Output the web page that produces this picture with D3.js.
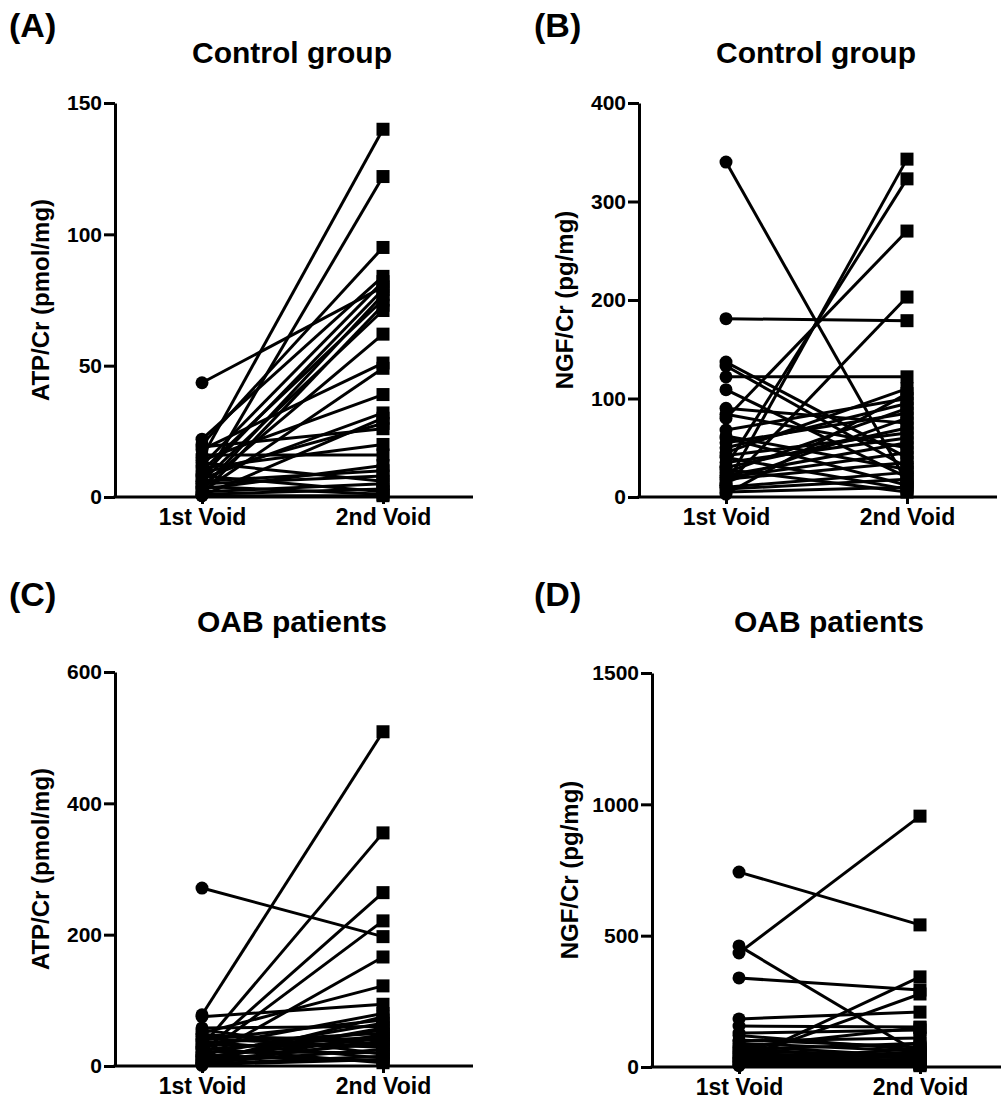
<!DOCTYPE html>
<html><head><meta charset="utf-8">
<script src="https://cdn.jsdelivr.net/npm/d3@7"></script>
<style>
body{margin:0;background:#fff;}
text{font-family:"Liberation Sans",Arial,sans-serif;font-weight:bold;fill:#000;}
</style></head>
<body><svg id="c" width="1001" height="1100"></svg>
<script>
const categories = ["1st Void", "2nd Void"];
// Panel A: Control ATP/Cr
const ctrlATP1 = [43.5,15,5,20,22,12,8,3,10,1,6,4,18,2,14,7,0.5,9,11,16,3,5,13,2,1,8,4,0.5,6,19];
const ctrlATP2 = [80,140,122,95,84,82,79,77,75,73,71,62,51,49,39,32,30,28,20,16,12,8,6,5,3,2,1,0.5,10,26];
// Panel B: Control NGF/Cr
const ctrlNGF1 = [340,181,137,133,122,109,90,84,68,60,55,12,31,80,12,50,45,40,35,30,25,20,18,15,10,8,5,3,28,42,62,22];
const ctrlNGF2 = [15,179,40,30,122,20,75,50,100,12,85,343,323,270,203,95,110,8,60,70,90,45,35,80,25,18,10,105,5,65,28,55];
// Panel C: OAB ATP/Cr
const oabATP1 = [78,75,271,30,20,15,10,58,50,45,40,35,32,28,25,22,18,12,8,5,3,2,55,42,38,27,14,6,1,48,16,9,4];
const oabATP2 = [509,94,197,355,264,221,166,60,122,40,70,50,30,80,45,20,65,55,35,25,15,10,18,28,12,5,42,75,48,33,8,58,38];
// Panel D: OAB NGF/Cr
const oabNGF1 = [742,434,461,339,183,156,129,103,20,30,90,80,70,60,55,50,45,40,35,30,25,20,15,10,8,5,65,100,120,75];
const oabNGF2 = [541,955,50,293,209,152,141,76,343,278,60,40,30,45,20,35,10,25,55,15,70,12,8,30,20,5,90,110,65,150];
const ticksA = [0,50,100,150];
const ticksB = [0,100,200,300,400];
const ticksC = [0,200,400,600];
const ticksD = [0,500,1000,1500];

const panels = [
  {letter:"(A)", title:"Control group", ylab:"ATP/Cr (pmol/mg)", v1:ctrlATP1, v2:ctrlATP2, ticks:ticksA, ax:115, y0:497, y1:103, lx:9, ty:63},
  {letter:"(B)", title:"Control group", ylab:"NGF/Cr (pg/mg)", v1:ctrlNGF1, v2:ctrlNGF2, ticks:ticksB, ax:639, y0:497, y1:103, lx:534, ty:63},
  {letter:"(C)", title:"OAB patients", ylab:"ATP/Cr (pmol/mg)", v1:oabATP1, v2:oabATP2, ticks:ticksC, ax:115, y0:1066, y1:672, lx:9, ty:632},
  {letter:"(D)", title:"OAB patients", ylab:"NGF/Cr (pg/mg)", v1:oabNGF1, v2:oabNGF2, ticks:ticksD, ax:652, y0:1067, y1:673, lx:534, ty:632}
];

const svg = d3.select("#c");
const axisLen = 358;
const FF = '"Liberation Sans",Arial,sans-serif';

panels.forEach(p => {
  const g = svg.append("g");
  const y = d3.scaleLinear().domain([0, d3.max(p.ticks)]).range([p.y0, p.y1]);
  const x = d3.scalePoint().domain(categories).range([p.ax + 87, p.ax + 268]);

  g.append("text").attr("x", p.lx).attr("y", p.ty - 26).attr("font-size", 34).text(p.letter);
  g.append("text").attr("x", p.ax + axisLen/2 - 2).attr("y", p.ty).attr("text-anchor","middle")
    .attr("font-size", 30).text(p.title);

  const ya = g.append("g").attr("transform", `translate(${p.ax},0)`)
    .call(d3.axisLeft(y).tickValues(p.ticks).tickSize(11).tickSizeOuter(0).tickPadding(2).tickFormat(d3.format("d")));
  ya.select(".domain").attr("stroke","#000").attr("stroke-width",3);
  ya.selectAll(".tick line").attr("stroke","#000").attr("stroke-width",3);
  ya.selectAll(".tick text").attr("font-size",21).attr("font-family",FF).attr("font-weight","bold").attr("fill","#000");

  const labX = p.ax - 74 - (d3.max(p.ticks) >= 1000 ? 8 : 0);
  g.append("text").attr("transform", `translate(${labX},${(p.y0+p.y1)/2}) rotate(-90)`)
    .attr("text-anchor","middle").attr("dy","0.35em").attr("font-size",24).text(p.ylab);

  g.append("line").attr("x1", p.ax - 1.5).attr("x2", p.ax + axisLen).attr("y1", p.y0).attr("y2", p.y0)
    .attr("stroke","#000").attr("stroke-width",3);
  const xa = g.append("g").attr("transform", `translate(0,${p.y0})`)
    .call(d3.axisBottom(x).tickSize(7).tickPadding(5));
  xa.select(".domain").remove();
  xa.selectAll(".tick line").attr("stroke","#000").attr("stroke-width",3);
  xa.selectAll(".tick text").attr("font-size",23).attr("font-family",FF).attr("font-weight","bold").attr("fill","#000");

  const pairs = p.v1.map((v, i) => [v, p.v2[i]]);
  g.append("g").selectAll("line").data(pairs).join("line")
    .attr("x1", x(categories[0])).attr("x2", x(categories[1]))
    .attr("y1", d => y(d[0])).attr("y2", d => y(d[1]))
    .attr("stroke","#000").attr("stroke-width",3);
  g.append("g").selectAll("circle").data(pairs).join("circle")
    .attr("cx", x(categories[0])).attr("cy", d => y(d[0])).attr("r", 6.5).attr("fill","#000");
  const s = 13;
  g.append("g").selectAll("rect").data(pairs).join("rect")
    .attr("x", x(categories[1]) - s/2).attr("y", d => y(d[1]) - s/2).attr("width", s).attr("height", s).attr("fill","#000");
});
</script></body></html>
